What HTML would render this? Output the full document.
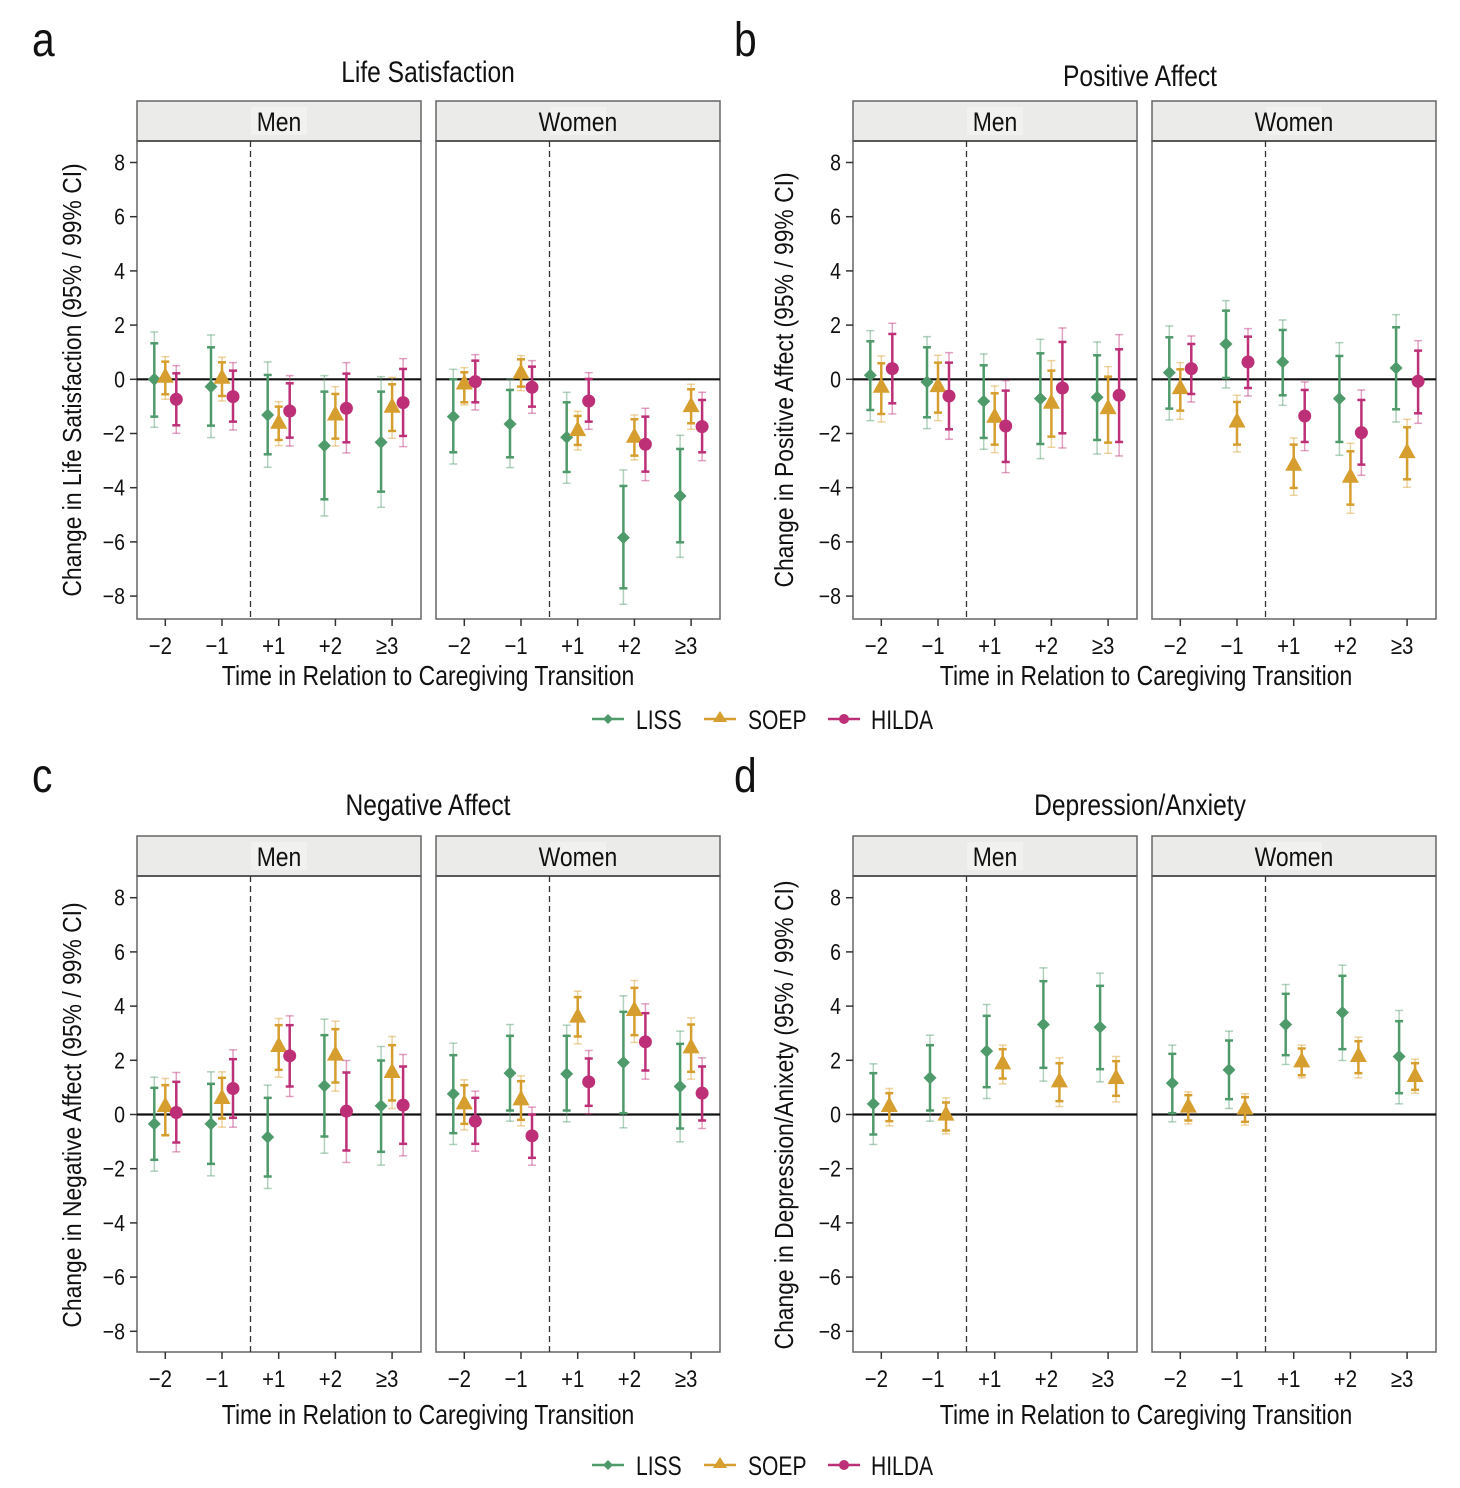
<!DOCTYPE html>
<html><head><meta charset="utf-8"><style>
html,body{margin:0;padding:0;background:#fff}
svg{display:block}
text{font-family:"Liberation Sans Narrow","Liberation Sans",sans-serif;fill:#111}
</style></head><body>
<svg id="s" width="1460" height="1488" viewBox="0 0 1460 1488" xmlns="http://www.w3.org/2000/svg"></svg>
<script>
const NS="http://www.w3.org/2000/svg";const S=document.getElementById('s');
function el(t,a,txt){const e=document.createElementNS(NS,t);for(const k in a)e.setAttribute(k,a[k]);if(txt!==undefined)e.textContent=txt;S.appendChild(e);return e;}
function tx(x,y,size,anchor,str,sx,rot){
 el('text',{x:0,y:0,'font-size':size,'text-anchor':anchor,transform:`translate(${x} ${y})`+(rot?` rotate(${rot})`:'')+` scale(${sx} 1)`},str);
}
const C=['#4f9a6b','#d69e2e','#bd2f77'];
const sc=27.1;
const panels=[
 {x:137,y0:379.3,Z:238,d:[
  [[238,130,350,96,382],[232,185,283,170,298],[298,220,376,197,400]],
  [[260,142,377,105,413],[235,187,288,172,303],[290,212,365,188,390]],
  [[345,225,463,186,502],[370,320,420,305,437],[333,250,413,227,438]],
  [[437,275,598,227,648],[345,282,416,260,438],[325,221,427,188,459]],
  [[427,275,575,230,622],[322,253,393,232,415],[308,207,408,176,440]]]},
 {x:436,y0:379.3,Z:118,d:[
  [[230,118,337,88,372],[132,97,187,83,195],[125,62,187,44,210]],
  [[252,150,352,118,383],[100,58,140,47,152],[142,80,200,62,220]],
  [[292,187,396,157,430],[272,228,315,214,330],[183,117,245,98,268]],
  [[593,438,745,390,793],[292,238,347,225,360],[313,230,395,205,422]],
  [[468,327,607,286,652],[200,148,250,133,268],[260,180,337,157,362]]]},
 {x:853,y0:379.3,Z:238,d:[
  [[226,124,330,92,362],[262,190,342,168,366],[206,102,310,70,342]],
  [[246,142,352,110,386],[260,188,338,166,362],[288,188,388,158,418]],
  [[304,196,414,162,448],[352,280,434,258,458],[378,272,486,242,518]],
  [[296,160,432,118,476],[310,212,410,182,442],[264,126,400,84,444]],
  [[292,166,420,126,462],[326,230,428,200,460],[286,148,426,104,468]]]},
 {x:1152,y0:379.3,Z:268,d:[
  [[248,142,356,108,390],[296,238,362,218,388],[236,162,312,138,336]],
  [[162,62,264,32,294],[396,336,464,316,486],[216,140,294,116,318]],
  [[216,120,316,90,346],[526,464,594,444,616],[378,300,456,276,482]],
  [[326,198,456,158,496],[562,484,644,460,670],[428,330,524,300,556]],
  [[234,112,358,74,396],[488,412,568,388,592],[274,182,370,152,400]]]},
 {x:137,y0:1114.5,Z:432,d:[
  [[460,352,568,320,602],[408,344,494,324,496],[426,334,516,306,544]],
  [[460,340,580,304,616],[384,322,444,304,470],[354,266,442,238,470]],
  [[500,382,618,344,654],[228,164,298,144,320],[256,164,348,136,378]],
  [[346,194,498,146,548],[254,176,336,152,362],[422,306,540,270,576]],
  [[406,270,544,228,584],[306,224,390,198,414],[404,288,520,252,556]]]},
 {x:436,y0:1114.5,Z:432,d:[
  [[370,254,488,218,522],[400,344,460,328,478],[452,382,520,362,542]],
  [[308,196,420,162,452],[388,332,448,316,466],[496,432,562,410,584]],
  [[310,196,420,164,454],[140,80,198,62,220],[334,264,406,240,430]],
  [[276,124,428,76,472],[120,52,194,30,216],[214,128,300,100,326]],
  [[348,220,474,182,514],[232,162,304,142,326],[368,288,450,262,474]]]},
 {x:853,y0:1114.5,Z:492,d:[
  [[460,368,552,340,582],[468,428,512,414,526]],
  [[382,284,480,254,512],[494,456,540,442,550]],
  [[302,196,410,162,444],[340,296,384,284,400]],
  [[222,92,352,52,392],[394,338,452,322,468]],
  [[230,106,356,68,394],[384,332,436,318,454]]]},
 {x:1152,y0:1114.5,Z:492,d:[
  [[398,310,488,284,514],[470,434,510,424,520]],
  [[358,270,446,242,474],[476,440,514,430,524]],
  [[222,130,314,102,342],[334,294,374,284,382]],
  [[186,76,296,44,330],[318,272,368,260,382]],
  [[318,212,428,180,460],[378,338,418,326,428]]]}
];
const xl=['\u22122','\u22121','+1','+2','\u22653'];
function marker(k,x,y){
 if(k==0)el('polygon',{points:`${x},${y-6.5} ${x+6.5},${y} ${x},${y+6.5} ${x-6.5},${y}`,fill:C[0]});
 else if(k==1)el('polygon',{points:`${x},${y-10} ${x+8.5},${y+5.5} ${x-8.5},${y+5.5}`,fill:C[1]});
 else el('circle',{cx:x,cy:y,r:6.5,fill:C[2]});
}
panels.forEach((p,pi)=>{
 const top=p.y0<700?141:876, bot=p.y0<700?619:1352, st=top-40;
 el('rect',{x:p.x,y:st,width:284,height:40,fill:'#ebebe9',stroke:'#666','stroke-width':1.5});
 el('rect',{x:p.x+114,y:st+6,width:56,height:28,fill:'#f1f1ef'});
 tx(p.x+142,st+30,27,'middle',pi%2==0?'Men':'Women',0.85);
 el('line',{x1:p.x,y1:top,x2:p.x+284,y2:top,stroke:'#333','stroke-width':2});
 el('rect',{x:p.x,y:top,width:284,height:bot-top,fill:'none',stroke:'#666','stroke-width':1.5});
 el('line',{x1:p.x,y1:p.y0,x2:p.x+284,y2:p.y0,stroke:'#111','stroke-width':2.2});
 el('line',{x1:p.x+113.5,y1:top,x2:p.x+113.5,y2:bot,stroke:'#333','stroke-width':1.3,'stroke-dasharray':'6,4'});
 for(let i=0;i<5;i++){const t=p.x+28.3+i*56.7;
  el('line',{x1:t,y1:bot,x2:t,y2:bot+7,stroke:'#333','stroke-width':1.5});
  tx(t-5,bot+35,24,'middle',xl[i],0.85);}
 if(pi%2==0){for(let v=-8;v<=8;v+=2){const ty=p.y0-v*sc;
  el('line',{x1:p.x-7,y1:ty,x2:p.x,y2:ty,stroke:'#333','stroke-width':1.5});
  tx(p.x-12,ty+8,23,'end',v<0?'\u2212'+(-v):''+v,0.85);}}
 const ns=p.d[0].length, off=ns==3?[-11,0,11]:[-8,8];
 p.d.forEach((g,i)=>{const t=p.x+28.3+i*56.7;
  g.forEach((r,k)=>{const x=t+off[k];const Y=z=>p.y0+(z-p.Z)/3;
   el('line',{x1:x,y1:Y(r[3]),x2:x,y2:Y(r[4]),stroke:C[k],'stroke-width':1.5,'stroke-opacity':0.45});
   [r[3],r[4]].forEach(z=>el('line',{x1:x-4,y1:Y(z),x2:x+4,y2:Y(z),stroke:C[k],'stroke-width':1.5,'stroke-opacity':0.45}));
   el('line',{x1:x,y1:Y(r[1]),x2:x,y2:Y(r[2]),stroke:C[k],'stroke-width':2.5});
   [r[1],r[2]].forEach(z=>el('line',{x1:x-4,y1:Y(z),x2:x+4,y2:Y(z),stroke:C[k],'stroke-width':2.5}));
   marker(k,x,Y(r[0]));
  });});
});
[['a',32,56],['b',734,56],['c',32,792],['d',734,792]].forEach(t=>tx(t[1],t[2],48,'start',t[0],0.85));
tx(428,82,30,'middle','Life Satisfaction',0.82);
tx(1140,86,30,'middle','Positive Affect',0.82);
tx(428,815,30,'middle','Negative Affect',0.82);
tx(1140,815,30,'middle','Depression/Anxiety',0.82);
[[428,685],[1146,685],[428,1424],[1146,1424]].forEach(q=>tx(q[0],q[1],28,'middle','Time in Relation to Caregiving Transition',0.82));
[[81,380,'Change in Life Satisfaction (95% / 99% CI)'],[793,380,'Change in Positive Affect (95% / 99% CI)'],[81,1115,'Change in Negative Affect (95% / 99% CI)'],[793,1115,'Change in Depression/Anixety (95% / 99% CI)']]
 .forEach(q=>tx(q[0],q[1],26,'middle',q[2],0.88,-90));
[719,1465].forEach(ly=>{
 const items=[[592,636,'LISS'],[704,748,'SOEP'],[828,871,'HILDA']];
 items.forEach((it,k)=>{el('line',{x1:it[0],y1:ly,x2:it[0]+32,y2:ly,stroke:C[k],'stroke-width':2.5});
  const cx=it[0]+16;
  if(k==0)el('polygon',{points:`${cx},${ly-5} ${cx+5},${ly} ${cx},${ly+5} ${cx-5},${ly}`,fill:C[0]});
  else if(k==1)el('polygon',{points:`${cx},${ly-8} ${cx+7},${ly+3} ${cx-7},${ly+3}`,fill:C[1]});
  else el('circle',{cx:cx,cy:ly,r:5,fill:C[2]});
  tx(it[1],ly+10,27,'start',it[2],0.78);});
});
</script>
</body></html>
